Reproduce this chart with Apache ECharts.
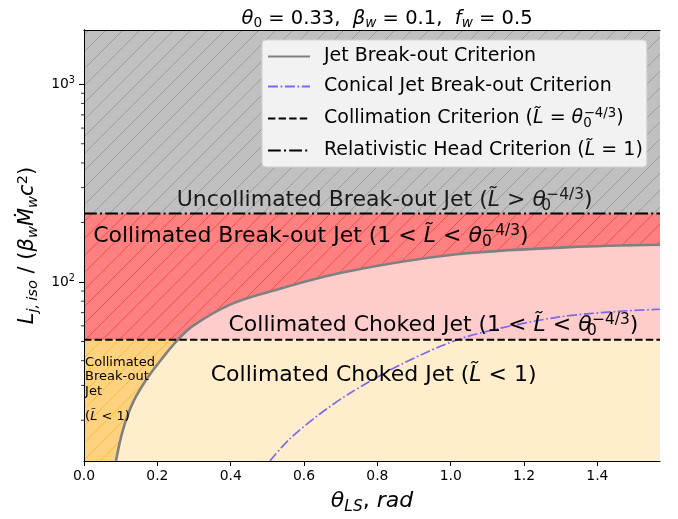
<!DOCTYPE html>
<html><head><meta charset="utf-8">
<script src="https://cdn.jsdelivr.net/npm/echarts@6/dist/echarts.min.js"></script>
<style>html,body{margin:0;padding:0;background:#fff}#c{width:678px;height:519px}</style>
</head><body><div id="c"></div>
<script>
// ---------- data ----------
const thetaMax = Math.PI / 2;
const yMin = 12.44, yMax = 1880;
const xTickValues = [0, 0.2, 0.4, 0.6, 0.8, 1.0, 1.2, 1.4];
const yTickValues = [100, 1000];
const yMinorTicks = [20, 30, 40, 50, 60, 70, 80, 90, 200, 300, 400, 500, 600, 700, 800, 900];
const relHeadLevel = 222;   // dash-dot line
const collimLevel = 51;     // dashed line
const jetTheta = [0.087, 0.107, 0.134, 0.171, 0.212, 0.253, 0.297, 0.400, 0.503, 0.708, 1.016, 1.324, 1.5708];
const jetL     = [12.44, 18.1, 24.7, 32.3, 40.8, 50.4, 60.0, 77.0, 89.0, 112.0, 138.0, 150.0, 154.3];
const conTheta = [0.507, 0.561, 0.643, 0.725, 0.861, 1.011, 1.134, 1.297, 1.460, 1.5708];
const conL     = [12.44, 16.1, 21.5, 27.4, 38.0, 50.5, 58.3, 66.6, 71.1, 72.8];
const labelTheta = [0.820, 0.025, 0.953, 0.790, 0.003];
const labelL     = [258, 169.6, 60.5, 33.9, 27.0];

// ---------- helpers ----------
const FF = 'DejaVu Sans';
function mk(F, color) {
  const c = color || '#000';
  const LH = Math.round(F * 1.2), s = F * 0.7, sl = Math.round(F * 0.6);
  const base = {fontFamily: FF, color: c, fontWeight: 'normal'};
  return {
    n: Object.assign({fontSize: F, lineHeight: LH}, base),
    i: Object.assign({fontSize: F, lineHeight: LH, fontStyle: 'italic'}, base),
    sb: Object.assign({fontSize: s, lineHeight: sl, verticalAlign: 'bottom'}, base),
    sbi: Object.assign({fontSize: s, lineHeight: sl, verticalAlign: 'bottom', fontStyle: 'italic'}, base),
    z: Object.assign({fontSize: s, lineHeight: sl, verticalAlign: 'bottom', width: 0.5}, base),
    sp: Object.assign({fontSize: s, lineHeight: sl, verticalAlign: 'top'}, base),
    g: Object.assign({fontSize: F, lineHeight: LH, width: 9}, base)
  };
}
function hatch(bg, fg) {
  const s = 17, cv = document.createElement('canvas');
  cv.width = s; cv.height = s;
  const g = cv.getContext('2d');
  g.fillStyle = bg; g.fillRect(0, 0, s, s);
  g.strokeStyle = fg; g.lineWidth = 1;
  g.beginPath();
  g.moveTo(-1, s + 1); g.lineTo(s + 1, -1);
  g.moveTo(-2, 2); g.lineTo(2, -2);
  g.moveTo(s - 2, s + 2); g.lineTo(s + 2, s - 2);
  g.stroke();
  return {image: cv, repeat: 'repeat'};
}
const pts = (xs, ys) => xs.map((x, k) => [x, ys[k]]);
const flat = v => [[0, v], [thetaMax, v]];
const LT = 'L\u0303';
const th43 = '{i|θ}{z|0}{sp|−4/3}';

const SM = 0.35;
const areaSeries = (data, color, z, smooth) => ({
  type: 'line', data, symbol: 'none', silent: true, z, smooth: smooth || 0,
  lineStyle: {width: 0}, areaStyle: {color, opacity: 1, origin: 'start'}
});

const legendNames = {
  'Jet Break-out Criterion': '{g| }{n|Jet Break-out Criterion}',
  'Conical Jet Break-out Criterion': '{g| }{n|Conical Jet Break-out Criterion}',
  'Collimation Criterion': '{g| }{n|Collimation Criterion (}{i|' + LT + '}{n| = }' + th43 + '{n|)}',
  'Relativistic Head Criterion': '{g| }{n|Relativistic Head Criterion (}{i|' + LT + '}{n| = 1)}'
};

const labelTexts = [
  '{n|Uncollimated Break-out Jet (}{i|' + LT + '}{n| > }' + th43 + '{n|)}',
  '{n|Collimated Break-out Jet (1 < }{i|' + LT + '}{n| < }' + th43 + '{n|)}',
  '{n|Collimated Choked Jet (1 < }{i|' + LT + '}{n| < }' + th43 + '{n|)}',
  '{n|Collimated Choked Jet (}{i|' + LT + '}{n| < 1)}',
  '{s|Collimated}\n{s|Break-out}\n{s|Jet}\n{q|(}{qi|' + LT + '}{q| < 1)}'
];
const labelPos = ['inside', 'right', 'inside', 'inside', 'right'];
const labelColor = ['#1a1a1a', '#000', '#000', '#000', '#000'];

const peach = jetTheta.map((t, k) => [t, Math.min(jetL[k], collimLevel)]);
peach.push([thetaMax, collimLevel]);

const smallRich = {
  s: {fontSize: 13, fontFamily: FF, lineHeight: 14.5, color: '#000'},
  q: {fontSize: 13, fontFamily: FF, lineHeight: 35, color: '#000'},
  qi: {fontSize: 13, fontFamily: FF, lineHeight: 35, color: '#000', fontStyle: 'italic'}
};

const chart = echarts.init(document.getElementById('c'), null, {renderer: 'canvas'});
chart.setOption({
  animation: false,
  backgroundColor: '#fff',
  title: {
    text: '{i|θ}{sb|0}{n| = 0.33,  }{i|β}{sbi|w}{n| = 0.1,  }{i|f}{sbi|w}{n| = 0.5}',
    left: 382, top: 2, textAlign: 'center',
    textStyle: {fontWeight: 'normal', rich: mk(19.5)}
  },
  grid: {left: 84, right: 18, top: 30, bottom: 57},
  legend: {
    orient: 'vertical', left: 262, top: 40, z: 20,
    data: Object.keys(legendNames),
    formatter: n => legendNames[n],
    backgroundColor: '#f2f2f2', borderColor: '#d0d0d0', borderWidth: 1, borderRadius: 4,
    padding: [7, 4, 7, 5], itemGap: 11, itemWidth: 42, itemHeight: 14,
    itemStyle: {opacity: 0},
    textStyle: {rich: mk(19)}
  },
  xAxis: [{
    type: 'value', min: 0, max: thetaMax, interval: 0.2, z: 10,
    name: '{i|θ}{sbi|LS}{n|, }{i|rad}', nameLocation: 'middle', nameGap: 27,
    nameTextStyle: {rich: mk(22)},
    axisLine: {show: true, lineStyle: {color: '#000', width: 1}},
    axisTick: {show: true, length: 5, customValues: xTickValues, lineStyle: {color: '#000', width: 1}},
    axisLabel: {customValues: xTickValues, formatter: v => v.toFixed(1), fontSize: 13.9, fontFamily: FF, color: '#000', margin: 8},
    splitLine: {show: false}
  }, {
    type: 'value', min: 0, max: thetaMax, position: 'top', z: 10,
    axisLine: {show: true, onZero: false, lineStyle: {color: '#000', width: 1}},
    axisTick: {show: false}, axisLabel: {show: false}, splitLine: {show: false}
  }],
  yAxis: [{
    type: 'log', logBase: 10, min: yMin, max: yMax, z: 10,
    name: '{i|L}{sbi|j,\u2009iso}{n| / (}{i|β}{sbi|w}{i|Ṁ}{sbi|w}{i|c}{sp|2}{n|)}',
    nameLocation: 'middle', nameGap: 39, nameRotate: 90,
    nameTextStyle: {rich: mk(21)},
    axisLine: {show: true, lineStyle: {color: '#000', width: 1}},
    axisTick: {show: true, length: 5, customValues: yTickValues, lineStyle: {color: '#000', width: 1}},
    axisLabel: {
      customValues: yTickValues, margin: 9,
      formatter: v => '{b|10}{e|' + Math.round(Math.log10(v)) + '}',
      rich: {
        b: {fontSize: 13.9, fontFamily: FF, color: '#000', lineHeight: 17},
        e: {fontSize: 9.7, fontFamily: FF, color: '#000', lineHeight: 8, verticalAlign: 'top'}
      }
    },
    splitLine: {show: false}
  }, {
    type: 'log', logBase: 10, min: yMin, max: yMax, position: 'right', z: 10,
    axisLine: {show: true, lineStyle: {color: '#000', width: 1}},
    axisTick: {show: false}, axisLabel: {show: false}, splitLine: {show: false}
  }],
  series: [
    areaSeries(flat(yMax), hatch('#c0c0c0', '#9c9c9c'), 1),
    areaSeries(flat(relHeadLevel), hatch('#ff8080', '#ff5050'), 2),
    areaSeries(pts(jetTheta, jetL), '#ffcccc', 3, SM),
    areaSeries(flat(collimLevel), hatch('#ffd280', '#ffbb45'), 4),
    areaSeries(peach, '#ffedcc', 5, SM),
    {
      name: 'Jet Break-out Criterion', type: 'line', data: pts(jetTheta, jetL), symbol: 'none',
      smooth: SM, z: 6,
      lineStyle: {color: '#808080', width: 2.6}, itemStyle: {color: '#808080'}
    },
    {
      name: 'Conical Jet Break-out Criterion', type: 'line', data: pts(conTheta, conL), symbol: 'none',
      smooth: 0.3, z: 6,
      lineStyle: {color: '#7b68ee', width: 1.7, type: [10, 2.6, 1.7, 2.6]}, itemStyle: {color: '#7b68ee'}
    },
    {
      name: 'Collimation Criterion', type: 'line', data: flat(collimLevel), symbol: 'none', z: 7,
      lineStyle: {color: '#000', width: 2, type: [7.4, 3.2]}, itemStyle: {color: '#000'}
    },
    {
      name: 'Relativistic Head Criterion', type: 'line', data: flat(relHeadLevel), symbol: 'none', z: 7,
      lineStyle: {color: '#000', width: 2, type: [12.8, 3.2, 2, 3.2]}, itemStyle: {color: '#000'}
    },
    {
      type: 'scatter', symbolSize: 0, silent: true, z: 8,
      itemStyle: {opacity: 1},
      data: labelTheta.map((t, k) => ({
        value: [t, labelL[k]],
        label: {
          show: true, position: labelPos[k], distance: 0, color: labelColor[k], opacity: 1,
          formatter: labelTexts[k],
          rich: k === 4 ? smallRich : mk(22, labelColor[k])
        }
      }))
    },
    {
      type: 'custom', silent: true, z: 12, clip: false,
      data: yMinorTicks.map(v => [0, v]),
      renderItem: (params, api) => {
        const p = api.coord([api.value(0), api.value(1)]);
        return {type: 'line', shape: {x1: p[0] - 3, y1: p[1], x2: p[0], y2: p[1]},
                style: {stroke: '#000', lineWidth: 0.8}};
      }
    }
  ]
});
</script>
</body></html>
